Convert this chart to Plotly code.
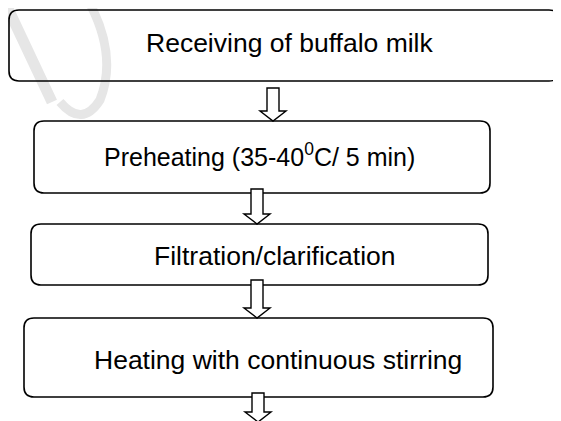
import plotly.graph_objects as go

# Flowchart content
steps = [
    "Receiving of buffalo milk",
    "Preheating (35-40<sup>0</sup>C/ 5 min)",
    "Filtration/clarification",
    "Heating with continuous stirring",
]
font_sizes = [26.5, 25, 26.5, 26.5]

# layout geometry (pixels, y downward)
boxes = [(1, 2, 551, 73), (26, 113, 482, 185), (23, 216, 480, 277), (16, 310, 485, 389)]
text_pos = [(281, 35), (251, 147), (267, 248), (270, 352)]
arrows = [(265, 80, 103, 113), (249, 181, 206, 216), (249, 272, 300, 310), (250, 385, 404, 414)]

W, H = 561, 421


def rounded(x0, y0, x1, y1, r):
    return (f"M {x0+r},{y0} L {x1-r},{y0} Q {x1},{y0} {x1},{y0+r} "
            f"L {x1},{y1-r} Q {x1},{y1} {x1-r},{y1} L {x0+r},{y1} "
            f"Q {x0},{y1} {x0},{y1-r} L {x0},{y0+r} Q {x0},{y0} {x0+r},{y0} Z")


def block_arrow(cx, top, shoulder, tip, sw=6, hw=13):
    return (f"M {cx-sw},{top} L {cx+sw},{top} L {cx+sw},{shoulder} L {cx+hw},{shoulder} "
            f"L {cx},{tip} L {cx-hw},{shoulder} L {cx-sw},{shoulder} Z")


shapes = []
# faint watermark
shapes.append(dict(type="path", path="M -4,-8 L 44,94", line=dict(color="#e6e6e6", width=11), layer="below"))
shapes.append(dict(type="path", path="M 80,-8 Q 110,47 92,92 Q 74,120 52,94",
                   line=dict(color="#e6e6e6", width=9), layer="below"))

for (x0, y0, x1, y1) in boxes:
    shapes.append(dict(type="path", path=rounded(x0, y0, x1, y1, 10),
                       line=dict(color="black", width=1.6), fillcolor="rgba(0,0,0,0)"))
for (cx, top, sh, tip) in arrows:
    shapes.append(dict(type="path", path=block_arrow(cx, top, sh, tip),
                       line=dict(color="black", width=1.4), fillcolor="white"))

annotations = []
for label, (tx, ty), fs in zip(steps, text_pos, font_sizes):
    annotations.append(dict(x=tx, y=ty, xref="x", yref="y", text=label, showarrow=False,
                            xanchor="center", yanchor="middle",
                            font=dict(family="Liberation Sans, Arial, sans-serif", size=fs, color="black")))

fig = go.Figure()
fig.add_trace(go.Scatter(x=[0, W], y=[0, H], mode="markers", marker=dict(opacity=0), hoverinfo="skip", showlegend=False))
fig.update_layout(
    width=W, height=H, margin=dict(l=0, r=0, t=0, b=0),
    paper_bgcolor="white", plot_bgcolor="white",
    xaxis=dict(range=[0, W], visible=False, fixedrange=True),
    yaxis=dict(range=[H, 0], visible=False, fixedrange=True),
    shapes=shapes, annotations=annotations, showlegend=False,
)
fig.write_html("out.html")
